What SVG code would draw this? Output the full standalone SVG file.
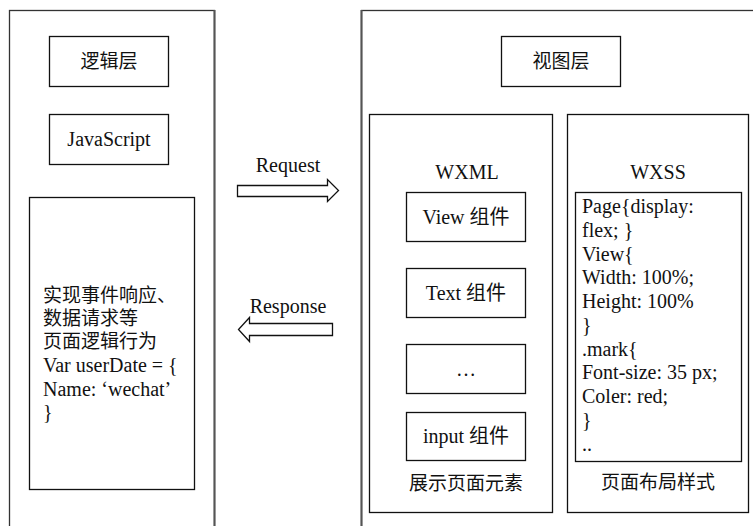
<svg xmlns="http://www.w3.org/2000/svg" width="753" height="526" viewBox="0 0 753 526">
  <style>
    .box { fill: #fff; stroke: #111; stroke-width: 1.3; }
    .outer { fill: none; stroke: #333; stroke-width: 1.3; }
    .edge { stroke: #555; stroke-width: 2; fill: none; }
    .arrow { fill: #fff; stroke: #111; stroke-width: 1.3; stroke-linejoin: miter; }
    text { font-family: "Liberation Serif", "Noto Sans CJK SC", serif; font-size: 20px; fill: #111; }
    .c { text-anchor: middle; }
    .cjk { font-size: 19px; }
  </style>
  <rect width="753" height="526" fill="#fff"/>

  <!-- logic layer column -->
  <g id="logic-layer">
    <rect class="outer" x="9.5" y="10.5" width="205" height="540"/>
    <line class="edge" x1="214.5" y1="10" x2="214.5" y2="526"/>
  </g>
  <g id="logic-title">
    <rect class="box" x="49.5" y="36.5" width="119" height="50"/>
    <text class="c cjk" x="109" y="68">逻辑层</text>
  </g>
  <g id="javascript">
    <rect class="box" x="49.5" y="114.5" width="119" height="50"/>
    <text class="c" x="109" y="146">JavaScript</text>
  </g>
  <g id="logic-code">
    <rect class="box" x="29.5" y="197.5" width="165" height="292"/>
    <text x="43" y="302" class="cjk">实现事件响应、</text>
    <text x="43" y="325" class="cjk">数据请求等</text>
    <text x="43" y="348" class="cjk">页面逻辑行为</text>
    <text x="43" y="372">Var userDate = {</text>
    <text x="43" y="396">Name: ‘wechat’</text>
    <text x="43" y="419">}</text>
  </g>

  <!-- view layer column -->
  <g id="view-layer">
    <rect class="outer" x="361.5" y="10.5" width="420" height="540"/>
    <line class="edge" x1="361.5" y1="10" x2="361.5" y2="526"/>
  </g>
  <g id="view-title">
    <rect class="box" x="501.5" y="36.5" width="119" height="50"/>
    <text class="c cjk" x="561" y="68">视图层</text>
  </g>

  <g id="wxml">
    <rect class="box" x="369.5" y="114.5" width="183" height="398"/>
    <text class="c" x="467" y="179">WXML</text>
    <text class="c cjk" x="466" y="490">展示页面元素</text>
  </g>
  <g id="view-component">
    <rect class="box" x="406.5" y="192.5" width="119" height="49"/>
    <text class="c" x="466" y="224">View 组件</text>
  </g>
  <g id="text-component">
    <rect class="box" x="406.5" y="268.5" width="119" height="49"/>
    <text class="c" x="466" y="300">Text 组件</text>
  </g>
  <g id="more-components">
    <rect class="box" x="406.5" y="344.5" width="119" height="49"/>
    <text class="c" x="466" y="376">…</text>
  </g>
  <g id="input-component">
    <rect class="box" x="406.5" y="412.5" width="119" height="48"/>
    <text class="c" x="466" y="443">input 组件</text>
  </g>

  <g id="wxss">
    <rect class="box" x="567.5" y="114.5" width="181" height="398"/>
    <text class="c" x="658" y="179">WXSS</text>
    <text class="c cjk" x="658" y="489">页面布局样式</text>
  </g>
  <g id="wxss-code">
    <rect class="box" x="575.5" y="192.5" width="166" height="269"/>
    <text x="582" y="213">Page{display:</text>
    <text x="582" y="236.75">flex; }</text>
    <text x="582" y="260.5">View{</text>
    <text x="582" y="284.25">Width: 100%;</text>
    <text x="582" y="308">Height: 100%</text>
    <text x="582" y="331.75">}</text>
    <text x="582" y="355.5">.mark{</text>
    <text x="582" y="379.25">Font-size: 35 px;</text>
    <text x="582" y="403">Coler: red;</text>
    <text x="582" y="426.75">}</text>
    <text x="582" y="450.5">..</text>
  </g>

  <!-- request / response block arrows -->
  <g id="connectors">
    <g id="request">
      <polygon class="arrow" points="237.5,185.5 327.5,185.5 327.5,179.5 338.5,190.5 327.5,201.5 327.5,196.5 237.5,196.5"/>
      <text class="c" x="288" y="172">Request</text>
    </g>
    <g id="response">
      <polygon class="arrow" points="332.5,323.5 249.5,323.5 249.5,317.5 238.5,329.5 249.5,341.5 249.5,335.5 332.5,335.5"/>
      <text class="c" x="288" y="313">Response</text>
    </g>
  </g>
</svg>
